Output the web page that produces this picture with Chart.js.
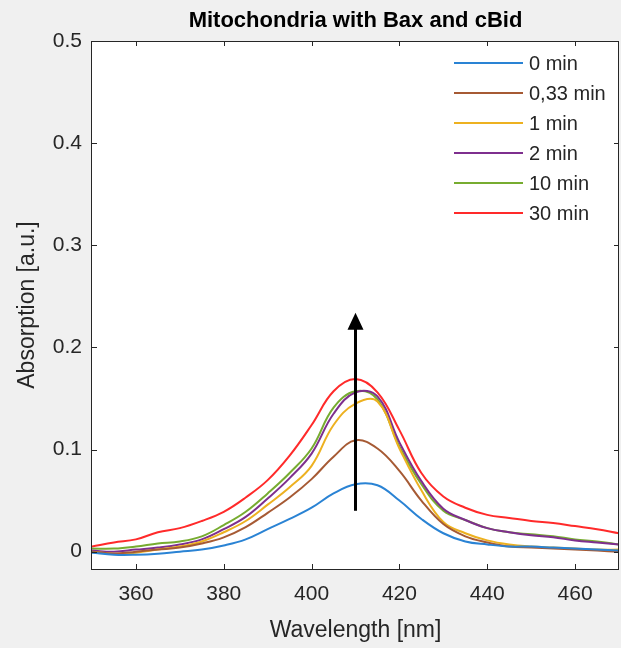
<!DOCTYPE html>
<html><head><meta charset="utf-8">
<script src="https://cdn.jsdelivr.net/npm/chart.js@4.4.1/dist/chart.umd.min.js"></script>
<style>html,body{margin:0;padding:0;background:#f0f0f0;}canvas{display:block}</style>
</head><body>
<canvas id="c" width="621" height="648"></canvas>
<script>
// ---- data ----
const titleText = 'Mitochondria with Bax and cBid';
const xTitle = 'Wavelength [nm]';
const yTitle = 'Absorption [a.u.]';
const seriesLabels = ['0 min', '0,33 min', '1 min', '2 min', '10 min', '30 min'];
const seriesColors = ['#2a83d4', '#a65a34', '#edb120', '#7e2f8e', '#77ac30', '#ff2a2a'];
const wavelengths = [350,355,360,365,370,375,380,385,390,395,400,405,410,415,420,425,430,435,440,445,450,455,460,465,470];
const s0min   = [-0.001,-0.003,-0.003,-0.002,0.000,0.002,0.006,0.012,0.022,0.032,0.043,0.057,0.066,0.065,0.050,0.032,0.018,0.010,0.007,0.005,0.005,0.004,0.003,0.002,0.001];
const s033min = [0.000,-0.002,0.000,0.002,0.004,0.008,0.014,0.024,0.038,0.053,0.071,0.093,0.109,0.101,0.079,0.050,0.027,0.015,0.009,0.005,0.004,0.003,0.002,0.001,0.000];
const s1min   = [0.000,-0.002,-0.001,0.002,0.005,0.010,0.019,0.030,0.046,0.063,0.084,0.124,0.145,0.147,0.101,0.060,0.029,0.018,0.011,0.007,0.005,0.004,0.003,0.002,0.002];
const s2min   = [0.001,0.000,0.002,0.004,0.007,0.012,0.022,0.034,0.052,0.072,0.096,0.135,0.156,0.152,0.107,0.069,0.042,0.031,0.023,0.019,0.016,0.014,0.011,0.009,0.007];
const s10min  = [0.003,0.003,0.005,0.008,0.010,0.015,0.026,0.039,0.057,0.077,0.101,0.141,0.157,0.149,0.103,0.066,0.040,0.031,0.023,0.019,0.017,0.015,0.012,0.010,0.007];
const s30min  = [0.005,0.009,0.012,0.019,0.023,0.030,0.039,0.053,0.070,0.094,0.124,0.157,0.169,0.156,0.119,0.077,0.054,0.043,0.036,0.033,0.030,0.028,0.025,0.022,0.018];
const seriesValues = [s0min, s033min, s1min, s2min, s10min, s30min];
const xTicks = [360, 380, 400, 420, 440, 460];
const yTicks = [0, 0.1, 0.2, 0.3, 0.4, 0.5];
const xRange = [350, 470];
const yRange = [-0.017, 0.5];
const arrowX = 410, arrowYStart = 0.040, arrowYEnd = 0.234;

const FONT = "'Liberation Sans', Arial, Helvetica, sans-serif";
const AXC = '#262626';

const decor = {
  id: 'decor',
  beforeDraw(chart) {
    const {ctx, chartArea: a} = chart;
    ctx.save();
    ctx.fillStyle = '#f0f0f0';
    ctx.fillRect(0, 0, chart.width, chart.height);
    ctx.fillStyle = '#ffffff';
    ctx.fillRect(a.left, a.top, a.right - a.left, a.bottom - a.top);
    ctx.restore();
  },
  afterDatasetsDraw(chart) {
    const {ctx, chartArea: a, scales: {x, y}} = chart;
    ctx.save();
    // arrow
    const ax = x.getPixelForValue(arrowX);
    const ay0 = y.getPixelForValue(arrowYStart);
    const ay1 = y.getPixelForValue(arrowYEnd);
    ctx.strokeStyle = '#000'; ctx.fillStyle = '#000';
    ctx.lineWidth = 3;
    ctx.beginPath(); ctx.moveTo(ax, ay0); ctx.lineTo(ax, ay1 + 12); ctx.stroke();
    ctx.beginPath(); ctx.moveTo(ax, ay1); ctx.lineTo(ax - 8, ay1 + 17); ctx.lineTo(ax + 8, ay1 + 17); ctx.closePath(); ctx.fill();
    // box
    ctx.strokeStyle = AXC; ctx.lineWidth = 1;
    ctx.strokeRect(Math.round(a.left) - 0.5, Math.round(a.top) + 0.5, Math.round(a.right - a.left), Math.round(a.bottom - a.top));
    // ticks inward
    const tl = 5;
    ctx.beginPath();
    xTicks.forEach(v => {
      const px = Math.round(x.getPixelForValue(v)) + 0.5;
      ctx.moveTo(px, a.bottom); ctx.lineTo(px, a.bottom - tl);
      ctx.moveTo(px, a.top); ctx.lineTo(px, a.top + tl);
    });
    yTicks.forEach(v => {
      const py = Math.round(y.getPixelForValue(v)) + 0.5;
      ctx.moveTo(a.left, py); ctx.lineTo(a.left + tl, py);
      ctx.moveTo(a.right, py); ctx.lineTo(a.right - tl, py);
    });
    ctx.stroke();
    // legend
    ctx.font = '20px ' + FONT;
    ctx.textBaseline = 'middle'; ctx.textAlign = 'left';
    seriesLabels.forEach((lab, i) => {
      const ry = a.top + 22 + i * 30;
      ctx.strokeStyle = seriesColors[i]; ctx.lineWidth = 2;
      ctx.beginPath(); ctx.moveTo(a.right - 165, ry); ctx.lineTo(a.right - 96, ry); ctx.stroke();
      ctx.fillStyle = AXC;
      ctx.fillText(lab, a.right - 90, ry + 1);
    });
    // title
    ctx.font = 'bold 22px ' + FONT;
    ctx.fillStyle = '#000';
    ctx.textAlign = 'center';
    ctx.fillText(titleText, (a.left + a.right) / 2, 21);
    ctx.restore();
  }
};

new Chart(document.getElementById('c'), {
  type: 'line',
  data: {
    datasets: seriesValues.map((vals, i) => ({
      label: seriesLabels[i],
      data: wavelengths.map((w, j) => ({x: w, y: vals[j]})),
      borderColor: seriesColors[i],
      borderWidth: 2,
      pointRadius: 0,
      fill: false,
      tension: 0.4
    }))
  },
  options: {
    responsive: false,
    devicePixelRatio: 1,
    animation: false,
    events: [],
    layout: {padding: {left: 0, right: 2, top: 41, bottom: 0}},
    plugins: {legend: {display: false}, tooltip: {enabled: false}, title: {display: false}},
    scales: {
      x: {
        type: 'linear', min: xRange[0], max: xRange[1],
        grid: {display: false, drawTicks: false},
        border: {display: false},
        afterBuildTicks: s => { s.ticks = xTicks.map(v => ({value: v})); },
        afterFit: s => { s.height = 79; },
        ticks: {color: AXC, font: {family: FONT, size: 21}, padding: 13, maxRotation: 0, autoSkip: false, callback: v => String(v)},
        title: {display: true, text: xTitle, color: AXC, font: {family: FONT, size: 23}, padding: {top: 0, bottom: 4}}
      },
      y: {
        type: 'linear', min: yRange[0], max: yRange[1],
        grid: {display: false, drawTicks: false},
        border: {display: false},
        afterBuildTicks: s => { s.ticks = yTicks.map(v => ({value: v})); },
        afterFit: s => { s.width = 92; },
        ticks: {color: AXC, font: {family: FONT, size: 21}, padding: 10, autoSkip: false, callback: v => (v === 0 ? '0' : Number(v).toFixed(1))},
        title: {display: true, text: yTitle, color: AXC, font: {family: FONT, size: 23}, padding: {top: 14, bottom: 0}}
      }
    }
  },
  plugins: [decor]
});
</script>
</body></html>
